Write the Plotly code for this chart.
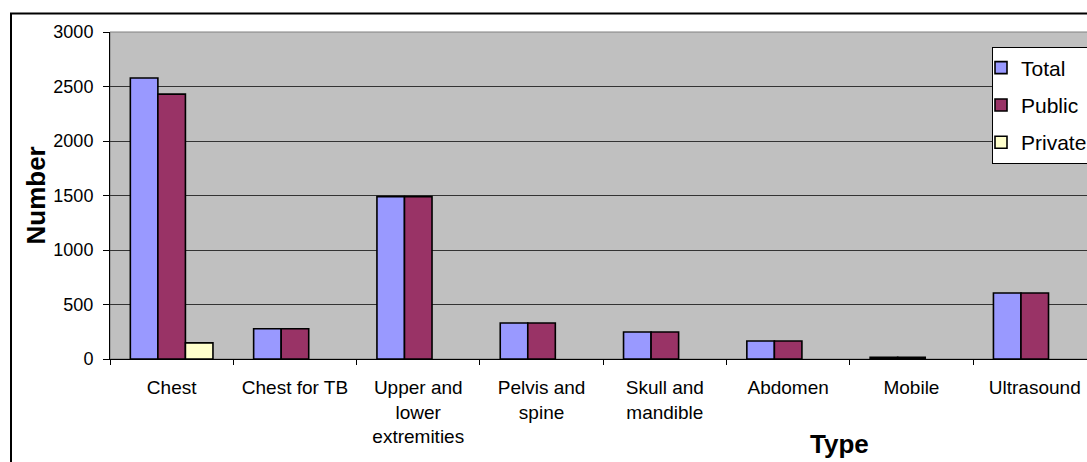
import plotly.graph_objects as go

categories = ["Chest", "Chest for TB", "Upper and<br>lower<br>extremities", "Pelvis and<br>spine",
              "Skull and<br>mandible", "Abdomen", "Mobile", "Ultrasound"]
total = [2578, 278, 1490, 330, 248, 165, 15, 605]
public = [2430, 278, 1490, 330, 248, 165, 15, 605]
private = [148, 0, 0, 0, 0, 0, 0, 0]
y_ticks = [0, 500, 1000, 1500, 2000, 2500, 3000]

W, H = 1087, 462
L, T, B = 110, 32, 103
plot_w = W - L
plot_h = H - T - B
cat_w = 123.3

def px_x(px):
    return (px - L) / plot_w

def px_y(py):
    return (H - B - py) / plot_h

font = "Liberation Sans, Arial, sans-serif"

fig = go.Figure()
for name, vals, color in [("Total", total, "#9999FF"), ("Public", public, "#993366"), ("Private", private, "#FFFFCC")]:
    fig.add_trace(go.Bar(x=categories, y=vals, name=name, legendgroup=name,
                         marker=dict(color=color,
                                     line=dict(color="#000000",
                                               width=[1.6 if v > 0 else 0 for v in vals]))))

fig.update_layout(
    width=W, height=H,
    margin=dict(l=L, r=0, t=T, b=B, autoexpand=False),
    paper_bgcolor="#FFFFFF", plot_bgcolor="#C0C0C0",
    barmode="group", bargap=0.33, bargroupgap=0,
    font=dict(family=font, size=18, color="#000000"),
    showlegend=True,
    legend=dict(x=px_x(992), y=px_y(46.5), xanchor="left", yanchor="top",
                bgcolor="#FFFFFF", bordercolor="#000000", borderwidth=1,
                font=dict(size=21, family=font), itemwidth=30, tracegroupgap=7,
                indentation=-12),
    xaxis=dict(range=[-0.5, -0.5 + plot_w / cat_w], type="category",
               showline=True, linecolor="#000000", linewidth=1,
               ticks="outside", tickson="boundaries", ticklen=5, tickcolor="#000000",
               tickfont=dict(size=19), showgrid=False, ticklabelstandoff=11),
    yaxis=dict(range=[0, 3000], tickvals=y_ticks, ticktext=[str(v) for v in y_ticks],
               showline=True, linecolor="#000000", linewidth=1,
               ticks="outside", ticklen=6, tickcolor="#000000",
               tickfont=dict(size=18), showgrid=True, gridcolor="#333333", gridwidth=1,
               zeroline=False, ticklabelstandoff=6),
    shapes=[
        dict(type="rect", xref="paper", yref="paper",
             x0=px_x(11), x1=px_x(1200), y0=px_y(600), y1=px_y(13.5),
             line=dict(color="#000000", width=2), fillcolor="rgba(0,0,0,0)", layer="below"),
        dict(type="rect", xref="paper", yref="paper", x0=0, x1=1.2, y0=0, y1=1,
             line=dict(color="#808080", width=1), fillcolor="rgba(0,0,0,0)", layer="below"),
    ],
    annotations=[
        dict(text="<b>Number</b>", xref="paper", yref="paper", x=px_x(35), y=0.5,
             textangle=-90, showarrow=False, font=dict(size=26, family=font),
             xanchor="center", yanchor="middle"),
        dict(text="<b>Type</b>", xref="paper", yref="paper", x=px_x(839), y=px_y(444),
             showarrow=False, font=dict(size=26, family=font),
             xanchor="center", yanchor="middle"),
    ],
)

fig.write_html("out.html", config={"displayModeBar": False},
               post_script="document.body.style.margin='0';document.body.style.overflow='hidden';")
